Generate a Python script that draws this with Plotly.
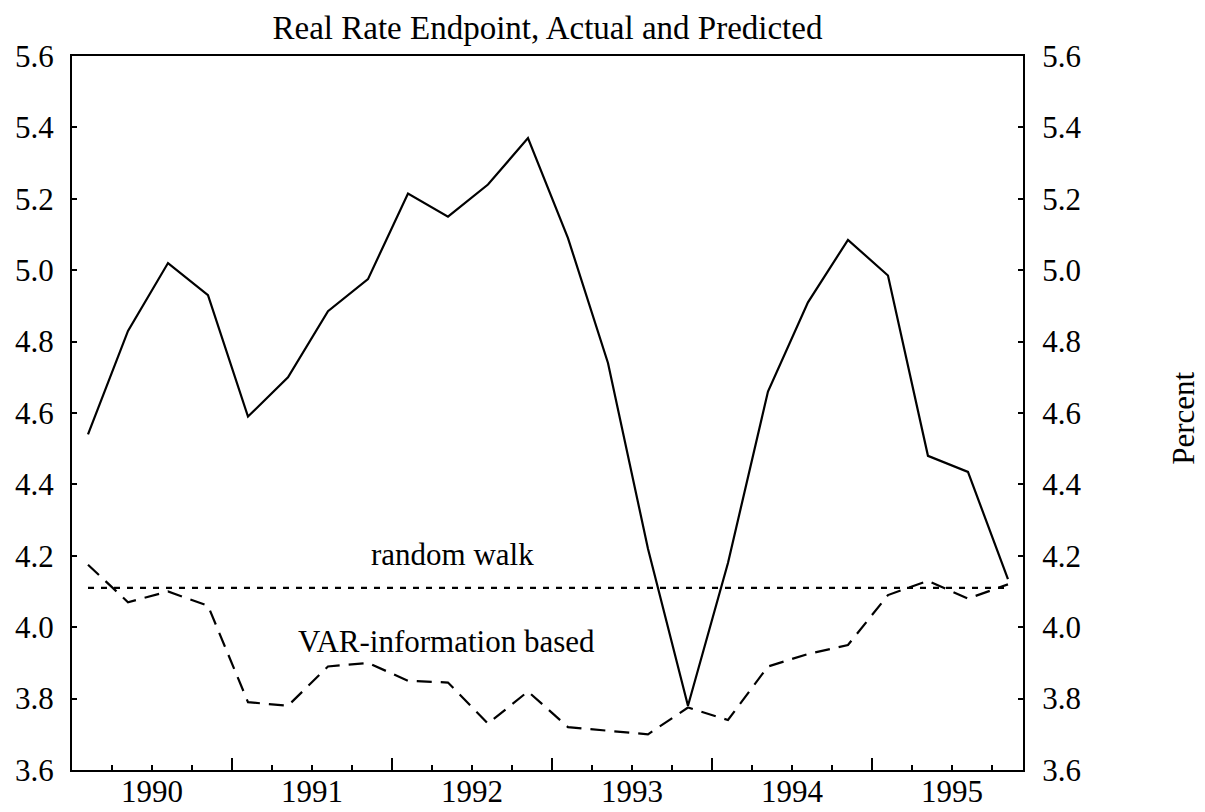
import plotly.graph_objects as go

# quarterly observations, 1990Q1 .. 1995Q4
years = [1990, 1991, 1992, 1993, 1994, 1995]
quarters = [(y, q) for y in years for q in (1, 2, 3, 4)]

actual = [4.54, 4.83, 5.02, 4.93,
          4.59, 4.70, 4.885, 4.975,
          5.215, 5.15, 5.24, 5.37,
          5.09, 4.74, 4.22, 3.78,
          4.18, 4.66, 4.91, 5.085,
          4.985, 4.48, 4.435, 4.135]

var_based = [4.175, 4.07, 4.10, 4.06,
             3.79, 3.78, 3.89, 3.90,
             3.85, 3.845, 3.73, 3.82,
             3.72, 3.71, 3.70, 3.775,
             3.74, 3.89, 3.925, 3.95,
             4.09, 4.13, 4.08, 4.12]

random_walk = [4.11] * 24

year_labels = [str(y) for y in years]

# position of each quarter on a fractional-year axis
x = [y + (q - 1) / 4 + 0.1 for y, q in quarters]

FONT = "Liberation Serif, Times New Roman, serif"
xrange_ = [1990, 1995.944]
yrange_ = [3.6, 5.6]

fig = go.Figure()
fig.add_trace(go.Scatter(x=x, y=actual, mode="lines",
                         line=dict(color="black", width=2.2)))
fig.add_trace(go.Scatter(x=x, y=random_walk, mode="lines",
                         line=dict(color="black", width=2.2, dash="6px,7px")))
fig.add_trace(go.Scatter(x=x, y=var_based, mode="lines",
                         line=dict(color="black", width=2.2, dash="15px,9px")))

# page body has an 8px margin, so the figure is kept 8px smaller
fig.update_layout(
    width=1197, height=804,
    margin=dict(l=64, r=182, t=48, b=42, autoexpand=False),
    paper_bgcolor="white", plot_bgcolor="white",
    showlegend=False,
    font=dict(family=FONT, size=31, color="black"),
    title=dict(text="Real Rate Endpoint, Actual and Predicted",
               xref="paper", x=0.5, xanchor="center",
               y=0.976, yanchor="middle",
               font=dict(family=FONT, size=33, color="black")),
    xaxis=dict(range=xrange_, tickvals=years, ticks="inside", ticklen=12,
               tickwidth=2, tickcolor="black", showticklabels=False,
               minor=dict(dtick=0.25, tick0=1990, ticks="inside", ticklen=5,
                          tickwidth=1.5, tickcolor="black"),
               showline=True, linecolor="black", linewidth=2, mirror=True,
               showgrid=False, zeroline=False, automargin=False),
    xaxis2=dict(range=xrange_, overlaying="x", anchor="y", side="bottom",
                tickvals=[y + 0.5 for y in years], ticktext=year_labels,
                ticks="", showline=False, showgrid=False, zeroline=False,
                automargin=False, tickfont=dict(family=FONT, size=31)),
    yaxis=dict(range=yrange_, dtick=0.2, tick0=3.6, tickformat=".1f",
               ticks="inside", ticklen=5, tickwidth=2, tickcolor="black",
               showline=True, linecolor="black", linewidth=2,
               showgrid=False, zeroline=False, automargin=False,
               ticklabelstandoff=10,
               tickfont=dict(family=FONT, size=31)),
    yaxis2=dict(range=yrange_, overlaying="y", side="right", anchor="x",
                dtick=0.2, tick0=3.6, tickformat=".1f",
                ticks="inside", ticklen=5, tickwidth=2, tickcolor="black",
                showline=True, linecolor="black", linewidth=2,
                showgrid=False, zeroline=False, automargin=False,
                ticklabelstandoff=11,
                tickfont=dict(family=FONT, size=31)),
)

# invisible trace so the label axis and right axis get drawn
fig.add_trace(go.Scatter(x=[x[0]], y=[actual[0]], xaxis="x2", yaxis="y2",
                         mode="markers", marker=dict(opacity=0),
                         hoverinfo="skip"))

fig.add_annotation(x=1992.38, y=4.11, xref="x", yref="y", yshift=33,
                   text="random walk", showarrow=False,
                   font=dict(family=FONT, size=31))
fig.add_annotation(x=1992.34, y=3.96, xref="x", yref="y",
                   text="VAR-information based", showarrow=False,
                   font=dict(family=FONT, size=31))
fig.add_annotation(x=1.169, y=0.493, xref="paper", yref="paper",
                   xanchor="center", yanchor="middle",
                   text="Percent", textangle=-90, showarrow=False,
                   font=dict(family=FONT, size=31))

fig.write_html("out.html")
